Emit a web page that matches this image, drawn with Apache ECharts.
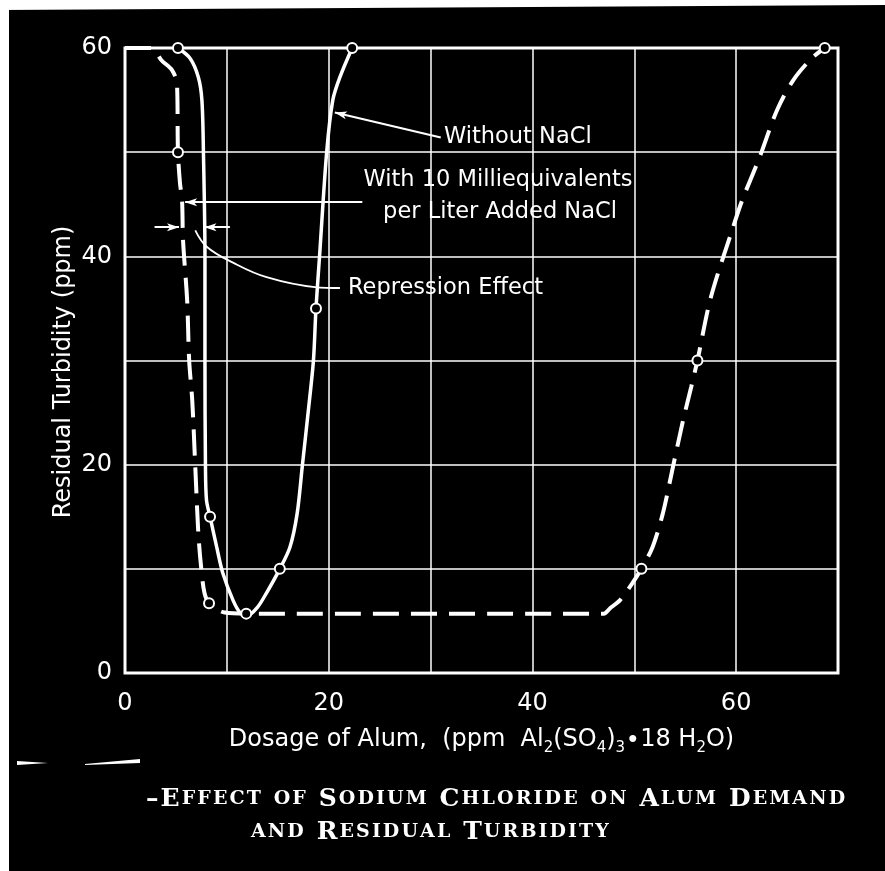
<!DOCTYPE html>
<html>
<head>
<meta charset="utf-8">
<script src="https://cdn.jsdelivr.net/npm/echarts@6/dist/echarts.min.js"></script>
<style>
  html, body { margin: 0; padding: 0; background: #000; }
  #chart { width: 885px; height: 871px; }
</style>
</head>
<body>
<div id="chart"></div>
<script>
// tick labels
let xTicks = [0, 20, 40, 60]
let yTicks = [0, 20, 40, 60]

// without NaCl (solid curve)
let solidX = [5.2, 6.4, 7.2, 7.55, 7.7, 7.85, 7.85, 7.9, 8.0, 8.35, 9.0, 9.6, 10.6, 11.3, 12.0, 13.0, 13.9, 15.2, 16.2, 16.9, 17.4, 18.0, 18.5, 18.75, 19.1, 19.8, 20.4, 21.1, 22.3]
let solidY = [60, 59.0, 57.2, 55, 50, 40, 30, 19.8, 16.6, 15, 12.1, 9.6, 7.0, 5.8, 5.5, 6.3, 7.7, 10, 12.1, 15.3, 19.8, 25.2, 30, 35, 40, 50, 55, 57.2, 60]

// with 10 meq/l added NaCl (dashed curve)
let dashX = [0, 2.6, 3.6, 4.6, 5.1, 5.2, 5.4, 5.6, 5.7, 6.1, 6.3, 6.6, 6.9, 7.2, 7.5, 7.8, 8.25, 9.8, 11.9, 47.0, 47.6, 48.6, 49.8, 50.7, 51.8, 52.8, 53.8, 54.8, 55.6, 56.2, 57.5, 59.6, 60.6, 62.3, 64.0, 65.6, 67.4, 68.7]
let dashY = [60, 60, 58.8, 57.9, 56.6, 50, 47, 45.4, 41.5, 35.8, 30, 26.2, 19.8, 13.4, 9.9, 7.7, 6.7, 5.8, 5.7, 5.7, 6.2, 7.0, 8.6, 10, 12.1, 15.3, 19.8, 24.3, 27.5, 30, 36, 42.5, 45.4, 49.5, 54, 56.9, 59, 60]

// open circles (observed points)
let solidMarkX = [5.2, 8.35, 11.9, 15.2, 18.75, 22.3]
let solidMarkY = [60, 15, 5.7, 10, 35, 60]
let dashMarkX = [5.2, 8.25, 50.7, 56.2, 68.7]
let dashMarkY = [50, 6.7, 10, 30, 60]

// leader of "Repression Effect"
let leaderX = [6.9, 8.05, 10.6, 13.9, 18.65, 21.1]
let leaderY = [42.5, 40.9, 39.4, 38.0, 37.05, 36.96]

// arrows [fromX, fromY, toX, toY]
let arrows = [
	[31.0, 51.4, 20.6, 53.8],
	[23.3, 45.2, 5.9, 45.2],
	[2.9, 42.8, 5.3, 42.8],
	[10.3, 42.8, 7.8, 42.8]
]

let zip = (xs, ys) => xs.map((x, i) => [x, ys[i]])

// small caps as rich text, with a little letter spacing
let smallCaps = (str) => {
	let out = []
	for (let ch of str) {
		let small = ch >= 'a' && ch <= 'z'
		out.push(`{${small ? 's' : 'b'}|${small ? ch.toUpperCase() : ch}}`)
	}
	return out.join('{g| }')
}

let white = '#fff'
let sans = 'DejaVu Sans'
let serif = 'DejaVu Serif'
let capRich = {
	b: { color: white, fontFamily: serif, fontSize: 25 },
	s: { color: white, fontFamily: serif, fontSize: 19 },
	g: { color: white, fontFamily: serif, fontSize: 6 }
}
let noteFont = `22.5px "${sans}"`

let chart = echarts.init(document.getElementById('chart'))

let option = {
	backgroundColor: '#000',
	animation: false,
	title: [
		{
			text: smallCaps('\u2013Effect of Sodium Chloride on Alum Demand'),
			left: 141, top: 782,
			textStyle: { rich: capRich }
		},
		{
			text: smallCaps('and Residual Turbidity'),
			left: 246, top: 815,
			textStyle: { rich: capRich }
		}
	],
	grid: {
		left: 125, right: 47, top: 48, bottom: 198,
		show: true, borderColor: white, borderWidth: 3
	},
	xAxis: {
		type: 'value', min: 0, max: 70, interval: 10,
		axisLine: { show: false },
		axisTick: { show: false },
		splitLine: { lineStyle: { color: white, width: 1.5 } },
		axisLabel: {
			color: white, fontFamily: sans, fontSize: 24, margin: 19,
			formatter: v => xTicks.includes(v) ? String(v) : ''
		},
		name: 'Dosage of Alum,  (ppm  Al{sub|2}(SO{sub|4}){sub|3}\u221918 H{sub|2}O)',
		nameLocation: 'middle',
		nameGap: 50,
		nameTextStyle: {
			color: white, fontFamily: sans, fontSize: 24, lineHeight: 33, verticalAlign: 'top',
			rich: {
				sub: { color: white, fontFamily: sans, fontSize: 15, lineHeight: 15, verticalAlign: 'bottom' }
			}
		}
	},
	yAxis: {
		type: 'value', min: 0, max: 60, interval: 10,
		axisLine: { show: false },
		axisTick: { show: false },
		splitLine: { lineStyle: { color: white, width: 1.5 } },
		axisLabel: {
			color: white, fontFamily: sans, fontSize: 24, margin: 13,
			formatter: v => yTicks.includes(v) ? String(v) : ''
		}
	},
	graphic: [
		{ type: 'text', x: 64, y: 372, rotation: Math.PI / 2,
			style: { text: 'Residual Turbidity (ppm)', font: `24px "${sans}"`, fill: white, textAlign: 'center', textVerticalAlign: 'middle' } },
		{ type: 'text', x: 444, y: 137,
			style: { text: 'Without NaCl', font: noteFont, fill: white, textAlign: 'left', textVerticalAlign: 'middle' } },
		{ type: 'text', x: 498, y: 180,
			style: { text: 'With 10 Milliequivalents', font: noteFont, fill: white, textAlign: 'center', textVerticalAlign: 'middle' } },
		{ type: 'text', x: 500, y: 212,
			style: { text: 'per Liter Added NaCl', font: noteFont, fill: white, textAlign: 'center', textVerticalAlign: 'middle' } },
		{ type: 'text', x: 348, y: 288,
			style: { text: 'Repression Effect', font: noteFont, fill: white, textAlign: 'left', textVerticalAlign: 'middle' } },
		// paper edges and stray marks
		{ type: 'polygon', z: 100, shape: { points: [[0, 0], [885, 0], [885, 5], [0, 10]] }, style: { fill: white } },
		{ type: 'rect', z: 100, shape: { x: 0, y: 0, width: 9, height: 871 }, style: { fill: white } },
		{ type: 'polygon', z: 100, shape: { points: [[17, 761], [48, 763], [17, 765]] }, style: { fill: white } },
		{ type: 'polygon', z: 100, shape: { points: [[85, 764], [140, 759], [140, 763], [85, 765]] }, style: { fill: white } }
	],
	series: [
		{
			name: 'Without NaCl', type: 'line', data: zip(solidX, solidY),
			smooth: 0.3, showSymbol: false, z: 3,
			lineStyle: { color: white, width: 3.5 }
		},
		{
			name: 'With NaCl', type: 'line', data: zip(dashX, dashY),
			smooth: 0.3, showSymbol: false, z: 3,
			lineStyle: { color: white, width: 4, type: [26, 12] }
		},
		{
			name: 'Repression', type: 'line', data: zip(leaderX, leaderY),
			smooth: 0.4, showSymbol: false, z: 2,
			lineStyle: { color: white, width: 1.8 },
			markLine: {
				silent: true, symbol: ['none', 'arrow'], symbolSize: [6, 12],
				label: { show: false },
				lineStyle: { color: white, width: 2, type: 'solid' },
				data: arrows.map(a => [{ coord: [a[0], a[1]] }, { coord: [a[2], a[3]] }])
			}
		},
		{
			name: 'points', type: 'scatter', z: 5,
			data: zip(solidMarkX, solidMarkY).concat(zip(dashMarkX, dashMarkY)),
			symbol: 'circle', symbolSize: 10,
			itemStyle: { color: '#000', borderColor: white, borderWidth: 2, opacity: 1 }
		}
	]
}

chart.setOption(option)
</script>
</body>
</html>
